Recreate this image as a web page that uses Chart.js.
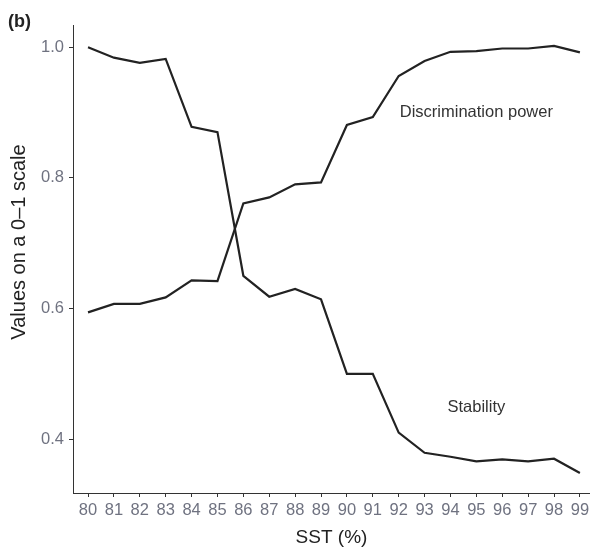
<!DOCTYPE html>
<html>
<head>
<meta charset="utf-8">
<script src="https://cdn.jsdelivr.net/npm/chart.js@4"></script>
<style>
  html, body { margin: 0; padding: 0; background: #fff; }
  #wrap { width: 590px; height: 549px; position: relative; }
</style>
</head>
<body>
<div id="wrap"><canvas id="sstChart"></canvas></div>
<script>
// SST thresholds (%)
const sst = [80, 81, 82, 83, 84, 85, 86, 87, 88, 89, 90, 91, 92, 93, 94, 95, 96, 97, 98, 99];

const stability = [1.000, 0.984, 0.976, 0.982, 0.878, 0.870, 0.650, 0.618, 0.630, 0.614,
                   0.500, 0.500, 0.410, 0.379, 0.373, 0.366, 0.369, 0.366, 0.370, 0.348];

const discrimination = [0.594, 0.607, 0.607, 0.617, 0.643, 0.642, 0.761, 0.770, 0.790, 0.793,
                        0.881, 0.893, 0.956, 0.979, 0.993, 0.994, 0.998, 0.998, 1.002, 0.992];

const yTicks = [0.4, 0.6, 0.8, 1.0];

// text labels placed inside the plot, in data units
const seriesLabels = ['Discrimination power', 'Stability'];
const labelX = [95.0, 95.0];
const labelY = [0.900, 0.449];

const yTitle = 'Values on a 0\u20131 scale';

const tickGrey = '#6f7280';
const ink = '#222222';
const fontFamily = '"Liberation Sans", Arial, sans-serif';

const toPoints = (ys) => sst.map((x, i) => ({ x: x, y: ys[i] }));

const labelPlugin = {
    id: 'labels',
    afterDatasetsDraw(chart) {
        const ctx = chart.ctx;
        const xs = chart.scales.x, ys = chart.scales.y;
        ctx.save();
        ctx.fillStyle = '#333333';
        ctx.font = '16.5px ' + fontFamily;
        ctx.textAlign = 'center';
        ctx.textBaseline = 'middle';
        seriesLabels.forEach((t, i) => {
            ctx.fillText(t, xs.getPixelForValue(labelX[i]), ys.getPixelForValue(labelY[i]));
        });
        // y axis title (sits a bit above the panel centre in the original)
        ctx.save();
        ctx.translate(19, 242);
        ctx.rotate(-Math.PI / 2);
        ctx.fillStyle = ink;
        ctx.font = '20px ' + fontFamily;
        ctx.fillText(yTitle, 0, 0);
        ctx.restore();
        // panel letter
        ctx.fillStyle = '#222222';
        ctx.font = 'bold 18px ' + fontFamily;
        ctx.textAlign = 'left';
        ctx.fillText('(b)', 8, 22);
        ctx.restore();
    }
};

function createChart() {
    const ctx = document.getElementById('sstChart').getContext('2d');
    new Chart(ctx, {
        type: 'line',
        data: {
            datasets: [{
                label: 'Stability',
                data: toPoints(stability),
                borderColor: ink,
                borderWidth: 2.2,
                pointRadius: 0,
                tension: 0,
                fill: false
            }, {
                label: 'Discrimination power',
                data: toPoints(discrimination),
                borderColor: ink,
                borderWidth: 2.2,
                pointRadius: 0,
                tension: 0,
                fill: false
            }]
        },
        options: {
            responsive: true,
            maintainAspectRatio: false,
            animation: false,
            layout: { padding: { top: 25, right: 0, left: 0, bottom: 0 } },
            plugins: {
                legend: { display: false },
                tooltip: { enabled: false }
            },
            scales: {
                x: {
                    type: 'linear',
                    min: 79.42,
                    max: 99.39,
                    afterBuildTicks: (scale) => { scale.ticks = sst.map(v => ({ value: v })); },
                    afterFit: (scale) => {
                        scale.height = 56;
                        scale.paddingLeft = 0;
                        scale.paddingRight = 0;
                    },
                    grid: { drawOnChartArea: false, drawTicks: true, tickLength: 4, tickColor: '#333', tickWidth: 1 },
                    border: { display: true, color: '#333', width: 1 },
                    ticks: {
                        color: tickGrey,
                        padding: 4,
                        maxRotation: 0,
                        autoSkip: false,
                        font: { family: fontFamily, size: 16.5 }
                    },
                    title: {
                        display: true,
                        text: 'SST (%)',
                        color: ink,
                        padding: 0,
                        font: { family: fontFamily, size: 19 }
                    }
                },
                y: {
                    min: 0.3175,
                    max: 1.034,
                    afterBuildTicks: (scale) => { scale.ticks = yTicks.map(v => ({ value: v })); },
                    afterFit: (scale) => { scale.width = 73; },
                    grid: { drawOnChartArea: false, drawTicks: true, tickLength: 4, tickColor: '#333', tickWidth: 1 },
                    border: { display: true, color: '#333', width: 1 },
                    ticks: {
                        color: tickGrey,
                        padding: 5,
                        callback: (v) => v.toFixed(1),
                        font: { family: fontFamily, size: 16.5 }
                    },
                    title: { display: false }
                }
            }
        },
        plugins: [labelPlugin]
    });
}

document.addEventListener('DOMContentLoaded', createChart);
</script>
</body>
</html>
